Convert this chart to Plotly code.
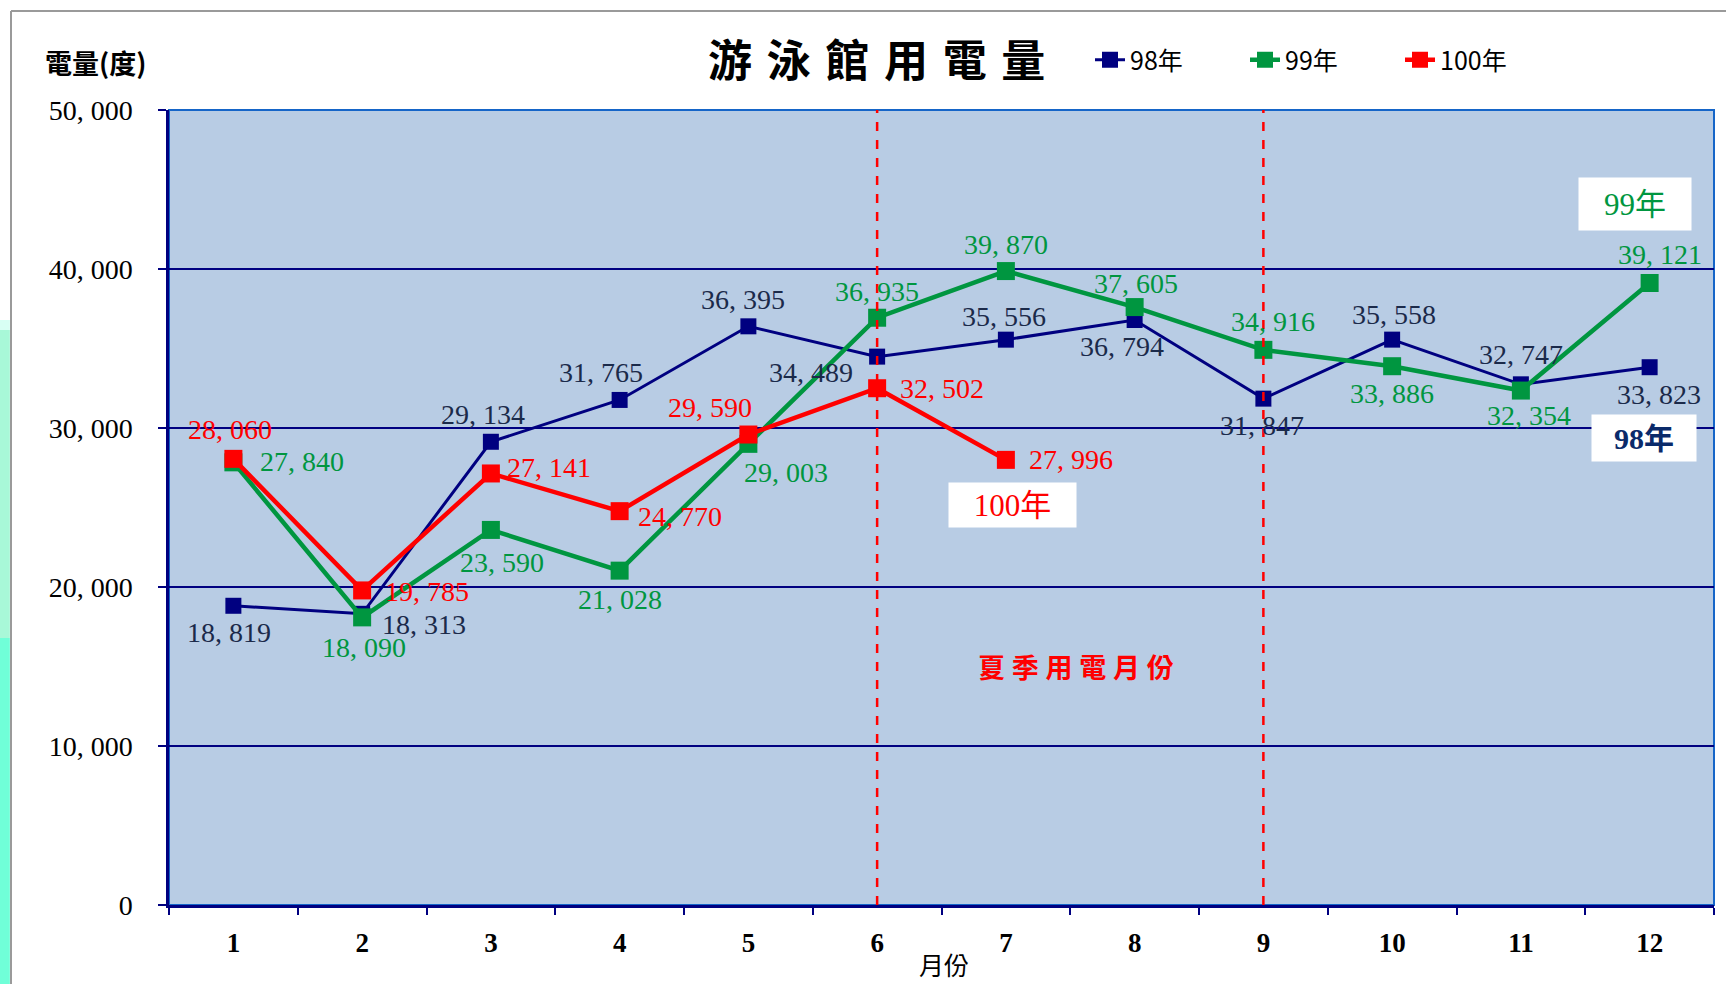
import plotly.graph_objects as go

months = list(range(1, 13))
month_labels = [str(m) for m in months]
y98 = [18819, 18313, 29134, 31765, 36395, 34489, 35556, 36794, 31847, 35558, 32747, 33823]
y99 = [27840, 18090, 23590, 21028, 29003, 36935, 39870, 37605, 34916, 33886, 32354, 39121]
y100 = [28060, 19785, 27141, 24770, 29590, 32502, 27996]
months100 = months[:len(y100)]
yticks = [0, 10000, 20000, 30000, 40000, 50000]
summer_months = [6, 9]

# label offsets (pixels, dx right, dy down) from each marker
off98 = [(-4, 27), (62, 11), (-8, -27), (-19, -27), (-5, -27), (-66, 16),
         (-2, -23), (-13, 27), (-1, 27), (2, -25), (0, -30), (9, 27)]
off99 = [(69, -1), (2, 30), (11, 33), (0, 29), (38, 29), (0, -26),
         (0, -27), (1, -24), (10, -28), (0, 27), (8, 25), (10, -28)]
off100 = [(-3, -29), (65, 1), (58, -6), (60, 5), (-38, -27), (65, 0), (65, 0)]


def fmt(v):
    return f"{v:,}".replace(",", ", ")


NAVY = "#000080"
GREEN = "#009640"
RED = "#FF0000"
LABEL_NAVY = "#1B2A4A"
SERIF = "Liberation Serif, Noto Sans CJK TC, serif"
CJK = "Noto Sans CJK TC, sans-serif"
LBL = 28

fig = go.Figure()
fig.add_trace(go.Scatter(
    x=months, y=y98, name="98年", mode="lines+markers",
    line=dict(color=NAVY, width=3), marker=dict(symbol="square", size=16, color=NAVY)))
fig.add_trace(go.Scatter(
    x=months, y=y99, name="99年", mode="lines+markers",
    line=dict(color=GREEN, width=4.5), marker=dict(symbol="square", size=18, color=GREEN)))
fig.add_trace(go.Scatter(
    x=months100, y=y100, name="100年", mode="lines+markers",
    line=dict(color=RED, width=4.5), marker=dict(symbol="square", size=18, color=RED)))

annotations = []
for xs, ys, offs, col in [(months, y98, off98, LABEL_NAVY), (months, y99, off99, GREEN),
                          (months100, y100, off100, RED)]:
    for xv, yv, (dx, dy) in zip(xs, ys, offs):
        annotations.append(dict(x=xv, y=yv, xref="x", yref="y", text=fmt(yv), showarrow=False,
                                xshift=dx, yshift=-dy, xanchor="center", yanchor="middle", borderpad=0,
                                font=dict(family=SERIF, size=LBL, color=col)))

shapes = []
for m in summer_months:
    shapes.append(dict(type="line", xref="x", yref="paper", x0=m, x1=m, y0=0, y1=1,
                       line=dict(color=RED, width=2.5, dash="dash"), layer="above"))
# plot frame (top/right bright blue)
shapes.append(dict(type="rect", xref="paper", yref="paper", x0=0, x1=1, y0=0, y1=1,
                   line=dict(color="#1565C8", width=2), layer="below"))
# background slide strip on the left
shapes.append(dict(type="rect", xref="paper", yref="paper", x0=-0.1100, x1=-0.1030,
                   y0=(905 - 330) / 795, y1=(905 - 320) / 795, fillcolor="#D8FFF4", line=dict(width=0), layer="below"))
shapes.append(dict(type="rect", xref="paper", yref="paper", x0=-0.1100, x1=-0.1030,
                   y0=(905 - 638) / 795, y1=(905 - 330) / 795, fillcolor="#A8F8D8", line=dict(width=0), layer="below"))
shapes.append(dict(type="rect", xref="paper", yref="paper", x0=-0.1100, x1=-0.1030,
                   y0=-0.12, y1=(905 - 638) / 795, fillcolor="#70FFD8", line=dict(width=0), layer="below"))
# outer chart frame (gray)
shapes.append(dict(type="line", xref="paper", yref="paper", x0=(11 - 169) / 1545, x1=(11 - 169) / 1545,
                   y0=-0.12, y1=(905 - 11) / 795, line=dict(color="#9A9A9A", width=2), layer="below"))
shapes.append(dict(type="line", xref="paper", yref="paper", x0=(11 - 169) / 1545, x1=1.02,
                   y0=(905 - 11) / 795, y1=(905 - 11) / 795, line=dict(color="#9A9A9A", width=2), layer="below"))

annotations += [
    dict(text="游\u2004泳\u2004館\u2004用\u2004電\u2004量", xref="paper", yref="paper",
         x=(876 - 169) / 1545, y=(905 - 58) / 795, showarrow=False,
         font=dict(family=CJK, size=44, color="black", weight="bold"), xanchor="center", yanchor="middle"),
    dict(text="<b>電量(度)</b>", xref="paper", yref="paper", x=(95 - 169) / 1545, y=(905 - 62) / 795,
         showarrow=False, font=dict(family=CJK, size=27, color="black"), xanchor="center", yanchor="middle"),
    dict(text="月份", xref="paper", yref="paper", x=(944 - 169) / 1545, y=(905 - 964) / 795,
         showarrow=False, font=dict(family=CJK, size=25, color="black"), xanchor="center", yanchor="middle"),
    dict(text="<b>夏\u2005季\u2005用\u2005電\u2005月\u2005份</b>", xref="x", yref="y", x=7.545, y=14969,
         showarrow=False, font=dict(family=CJK, size=27, color=RED)),
    dict(text="100年", xref="x", yref="y", x=7.055, y=25157, showarrow=False,
         bgcolor="white", width=125, height=42, font=dict(family=SERIF, size=31, color=RED)),
    dict(text="99年", xref="x", yref="y", x=11.886, y=44088, showarrow=False,
         bgcolor="white", width=110, height=50, font=dict(family=SERIF, size=31, color=GREEN)),
    dict(text="<b>98年</b>", xref="x", yref="y", x=11.956, y=29371, showarrow=False,
         bgcolor="white", width=102, height=44, font=dict(family=SERIF, size=30, color="#0A2A6A")),
]

fig.update_layout(
    width=1726, height=984,
    margin=dict(l=169, r=12, t=110, b=79),
    paper_bgcolor="white", plot_bgcolor="#B8CCE4",
    showlegend=True,
    legend=dict(orientation="h", x=(1090 - 169) / 1545, y=(905 - 60) / 795, xanchor="left", yanchor="middle",
                entrywidth=110, entrywidthmode="pixels",
                font=dict(family=CJK, size=25, color="black"), bgcolor="rgba(0,0,0,0)"),
    shapes=shapes, annotations=annotations,
    xaxis=dict(range=[0.5, 12.5], tickvals=months, ticktext=month_labels, ticks="",
               showgrid=False, zeroline=False, showline=True, linecolor=NAVY, linewidth=2.5,
               tickfont=dict(family=SERIF, size=27, color="black", weight="bold"),
               ticklabelstandoff=12,
               minor=dict(tick0=0.5, dtick=1, ticks="outside", ticklen=7, tickcolor=NAVY, tickwidth=2, showgrid=False)),
    yaxis=dict(range=[0, 50000], tickvals=yticks, ticktext=[fmt(v) for v in yticks],
               ticks="outside", ticklen=8, tickcolor=NAVY, tickwidth=2,
               showgrid=True, gridcolor=NAVY, gridwidth=1.5, zeroline=False,
               showline=True, linecolor=NAVY, linewidth=2.5,
               tickfont=dict(family=SERIF, size=28, color="black"),
               ticklabelstandoff=20),
)

fig.write_html("out.html", config={"displayModeBar": False},
               post_script="document.body.style.margin='0';document.body.style.padding='0';")
